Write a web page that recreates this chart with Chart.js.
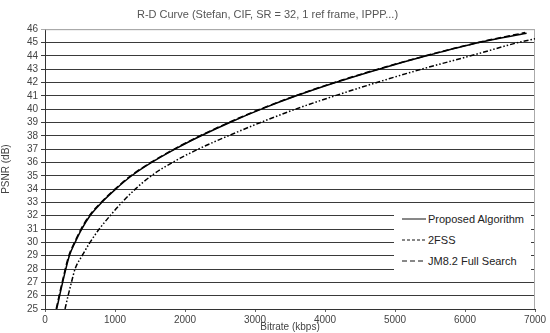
<!DOCTYPE html>
<html>
<head>
<meta charset="utf-8">
<script src="https://cdn.jsdelivr.net/npm/chart.js@4.4.0/dist/chart.umd.min.js"></script>
<style>
    body { margin: 0; background: #fff; }
    .wrap { position: relative; width: 550px; height: 333px; }
    .legendBox {
        position: absolute; left: 394px; top: 207px; width: 137px; height: 68px;
        background: #fff; font-family: "Liberation Sans", Arial, sans-serif; font-size: 11px; color: #222;
    }
    .legendBox .row { position: absolute; left: 8px; height: 14px; display: flex; align-items: center; }
    .legendBox svg { margin-right: 2px; }
</style>
</head>
<body>
<div class="wrap">
    <canvas class="rdChart" width="550" height="333"></canvas>
    <div class="legendBox">
        <div class="row" style="top:5px"><svg width="24" height="4"><line x1="0" y1="2" x2="24" y2="2" stroke="#111" stroke-width="1"/></svg>Proposed Algorithm</div>
        <div class="row" style="top:26px"><svg width="24" height="4"><line x1="0" y1="2" x2="24" y2="2" stroke="#111" stroke-width="1" stroke-dasharray="3,2"/></svg>2FSS</div>
        <div class="row" style="top:47px"><svg width="24" height="4"><line x1="0" y1="2" x2="24" y2="2" stroke="#111" stroke-width="1" stroke-dasharray="5,3"/></svg>JM8.2 Full Search</div>
    </div>
</div>
<script>
// values
const proposedRate = [167, 252, 348, 430, 524, 643, 810, 1010, 1238, 1524, 1857, 2230, 2640, 3090, 3590, 4150, 4770, 5450, 6200, 6880];
const proposedPsnr = [25, 27, 29, 30, 31, 32, 33, 34, 35, 36, 37, 38, 39, 40, 41, 42, 43, 44, 45, 45.7];

const fssRate = [286, 330, 378, 429, 530, 643, 775, 930, 1100, 1290, 1520, 1820, 2190, 2620, 3080, 3580, 4140, 4740, 5380, 6080, 6760, 7000];
const fssPsnr = [25, 26, 27, 28, 29, 30, 31, 32, 33, 34, 35, 36, 37, 38, 39, 40, 41, 42, 43, 44, 45, 45.28];

const jmRate = [160, 245, 340, 422, 515, 633, 800, 1000, 1225, 1510, 1845, 2215, 2625, 3075, 3575, 4135, 4755, 5435, 6185, 6860];
const jmPsnr = [25, 27, 29, 30, 31, 32, 33, 34, 35, 36, 37, 38, 39, 40, 41, 42, 43, 44, 45, 45.75];

const yTicks = [25, 46];
const xTicks = [0, 7000];

const rdChart = document.querySelector('.rdChart');

function toPoints(rate, psnr) {
    return rate.map((r, i) => ({ x: r, y: psnr[i] }));
}

// light gray frame round the plot
const frame = {
    id: 'frame',
    beforeDatasetsDraw(chart) {
        const a = chart.chartArea;
        const ctx = chart.ctx;
        ctx.save();
        ctx.strokeStyle = '#aaa';
        ctx.lineWidth = 1;
        ctx.beginPath();
        ctx.moveTo(a.left, a.top + 0.5);
        ctx.lineTo(a.right - 0.5, a.top + 0.5);
        ctx.lineTo(a.right - 0.5, a.bottom);
        ctx.stroke();
        ctx.restore();
    }
};

Chart.defaults.font.family = '"Liberation Sans", Arial, sans-serif';
Chart.defaults.color = '#444';

new Chart(rdChart, {
    type: 'line',
    data: {
        datasets: [{
            label: 'Proposed Algorithm',
            data: toPoints(proposedRate, proposedPsnr),
            borderColor: '#000',
            borderWidth: 1.5,
            pointRadius: 0,
            cubicInterpolationMode: 'monotone'
        }, {
            label: '2FSS',
            data: toPoints(fssRate, fssPsnr),
            borderColor: '#000',
            borderWidth: 1.5,
            borderDash: [5, 2, 1.5, 2, 1.5, 2],
            pointRadius: 0,
            cubicInterpolationMode: 'monotone'
        }, {
            label: 'JM8.2 Full Search',
            data: toPoints(jmRate, jmPsnr),
            borderColor: '#000',
            borderWidth: 1.5,
            borderDash: [6, 3],
            pointRadius: 0,
            cubicInterpolationMode: 'monotone'
        }]
    },
    options: {
        responsive: false,
        animation: false,
        layout: { padding: { left: 0, right: 15, top: 0, bottom: 0 } },
        plugins: {
            legend: { display: false },
            tooltip: { enabled: false },
            title: {
                display: true,
                text: 'R-D Curve (Stefan, CIF, SR = 32, 1 ref frame, IPPP...)',
                color: '#555',
                font: { size: 11, weight: 'normal' },
                padding: { top: 8, bottom: 8 }
            }
        },
        scales: {
            x: {
                type: 'linear',
                min: xTicks[0],
                max: xTicks[1],
                ticks: { stepSize: 1000, color: '#444', font: { size: 10 }, padding: 2, autoSkip: false, maxRotation: 0, callback: v => String(v) },
                grid: { drawOnChartArea: false, drawTicks: true, tickLength: 3, color: '#666' },
                border: { color: '#333' },
                title: { display: true, text: 'Bitrate (kbps)', color: '#444', font: { size: 10 }, padding: 0 },
                afterFit(scale) { scale.height = 24; }
            },
            y: {
                min: yTicks[0],
                max: yTicks[1],
                ticks: { stepSize: 1, color: '#444', font: { size: 10 }, padding: 3, autoSkip: false },
                grid: {
                    color: ctx => ctx.tick && ctx.tick.value === yTicks[1] ? '#aaa' : '#3a3a3a',
                    tickLength: 4
                },
                border: { color: '#333' },
                title: { display: true, text: 'PSNR (dB)', color: '#444', font: { size: 10 }, padding: 0 },
                afterFit(scale) { scale.width = 45; }
            }
        }
    },
    plugins: [frame]
});
</script>
</body>
</html>
